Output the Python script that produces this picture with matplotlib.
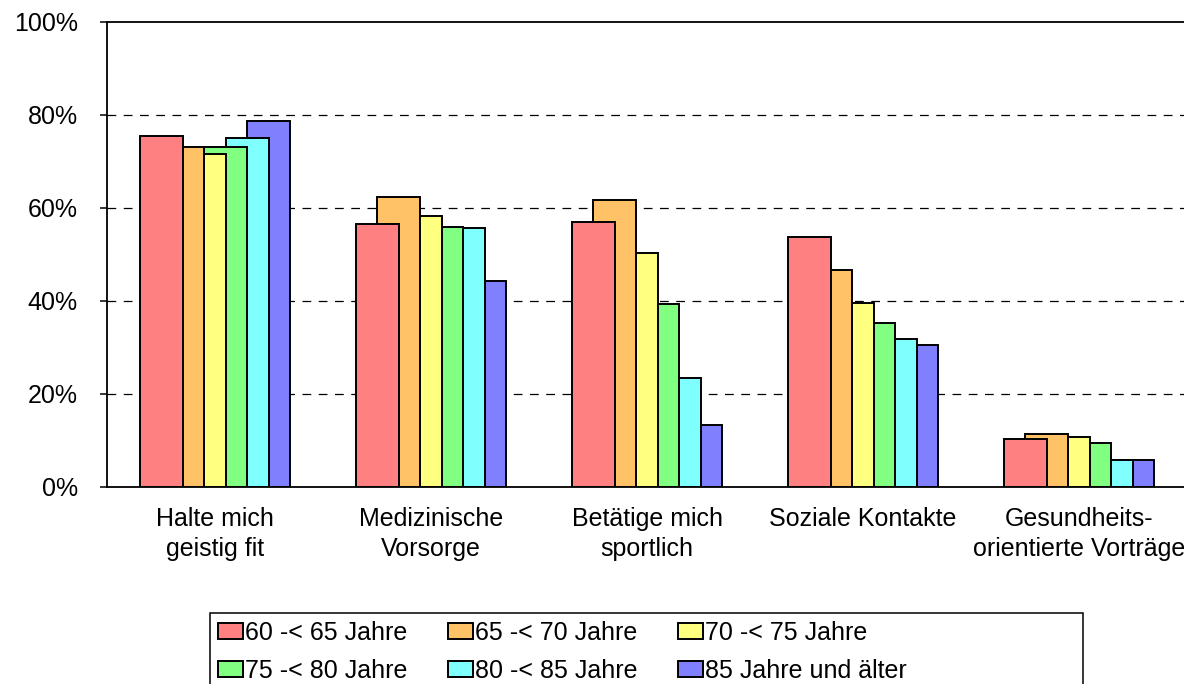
import numpy as np
import matplotlib
matplotlib.use('Agg')
import matplotlib.pyplot as plt
from matplotlib.ticker import PercentFormatter

plt.rcParams['font.family'] = ['Liberation Sans', 'DejaVu Sans']

categories = ['Halte mich\ngeistig fit', 'Medizinische\nVorsorge', 'Betätige mich\nsportlich',
              'Soziale Kontakte', 'Gesundheits-\norientierte Vorträge']
series_labels = ['60 -< 65 Jahre', '65 -< 70 Jahre', '70 -< 75 Jahre',
                 '75 -< 80 Jahre', '80 -< 85 Jahre', '85 Jahre und älter']
s60 = [75.4, 56.5, 56.8, 53.7, 10.3]
s65 = [73.1, 62.2, 61.6, 46.5, 11.4]
s70 = [71.5, 58.2, 50.3, 39.5, 10.7]
s75 = [73.1, 55.8, 39.3, 35.2, 9.4]
s80 = [75.0, 55.6, 23.3, 31.7, 5.6]
s85 = [78.6, 44.2, 13.2, 30.4, 5.6]
series = [s60, s65, s70, s75, s80, s85]
colors = ['#FF8080', '#FFC266', '#FFFF80', '#80FF80', '#80FFFF', '#8080FF']

FS = 18
fig = plt.figure(figsize=(11.84, 6.84), dpi=100)
ax = fig.add_axes([107/1184, 1 - 486.5/684, 1080/1184, 464.8/684])

x = np.arange(len(categories))
step = 21.5 / 216
width = 43 / 216
# overlapping bars, earlier series drawn on top
for i, (vals, lab, c) in enumerate(zip(series, series_labels, colors)):
    ax.bar(x + (i - 2.5) * step, vals, width=width, color=c, edgecolor='black',
           linewidth=1.4, label=lab, zorder=10 - i)

ax.set_xlim(-0.5, 4.5)
ax.set_ylim(0, 100)
ax.set_yticks([0, 20, 40, 60, 80, 100])
ax.yaxis.set_major_formatter(PercentFormatter(decimals=0))
ax.set_xticks(x)
ax.set_xticklabels(categories, linespacing=1.3)
ax.tick_params(axis='x', length=0, pad=15, labelsize=FS)
ax.tick_params(axis='y', direction='out', length=5, width=1.1, pad=16, labelsize=FS)

for yv in [20, 40, 60, 80]:
    ax.axhline(yv, color='black', lw=0.9, ls=(0, (7, 6)), zorder=1)

for side in ['left', 'bottom', 'top']:
    ax.spines[side].set_linewidth(1.3)
ax.spines['right'].set_visible(False)

# legend fills row by row like the original
handles, labels = ax.get_legend_handles_labels()
order = [0, 3, 1, 4, 2, 5]
fig.legend([handles[k] for k in order], [labels[k] for k in order],
           loc='upper left', bbox_to_anchor=(218/1184, 1 - 621/684),
           ncol=3, frameon=False, fontsize=FS, borderpad=0, borderaxespad=0,
           handlelength=1.0, handleheight=0.6, handletextpad=0.08,
           columnspacing=1.62, labelspacing=0.55)
fig.add_artist(plt.Rectangle((210/1184, -0.05), 873/1184, 0.05 + 1 - 613/684,
                             transform=fig.transFigure, fill=False, edgecolor='black',
                             lw=1.1, clip_on=False))

fig.savefig('out.png', dpi=100, facecolor='white')
